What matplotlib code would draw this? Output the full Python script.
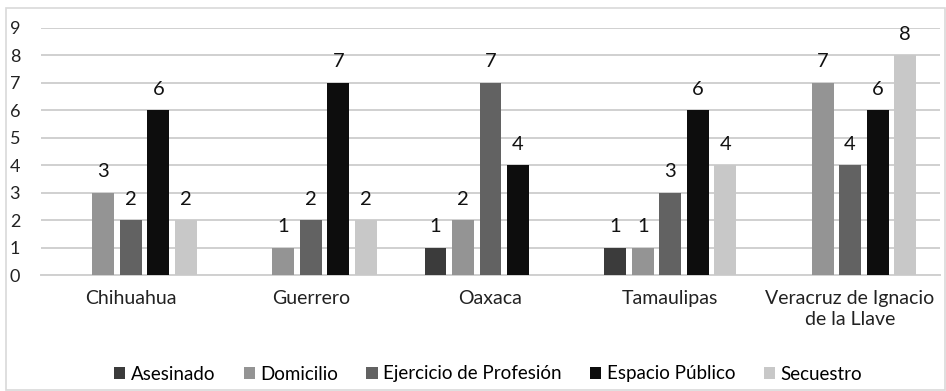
import numpy as np
import matplotlib.pyplot as plt
from matplotlib.patches import Rectangle

plt.rcParams['font.family'] = ['Lato', 'DejaVu Sans']

states = ['Chihuahua', 'Guerrero', 'Oaxaca', 'Tamaulipas', 'Veracruz de Ignacio\nde la Llave']
series_names = ['Asesinado', 'Domicilio', 'Ejercicio de Profesión', 'Espacio Público', 'Secuestro']
asesinado = [0, 0, 1, 1, 0]
domicilio = [3, 1, 2, 1, 7]
ejercicio = [2, 2, 7, 3, 4]
espacio = [6, 7, 4, 6, 6]
secuestro = [2, 2, 0, 4, 8]
colors = ['#3b3b3b', '#949494', '#626262', '#0d0d0d', '#c8c8c8']

W, H = 946, 391
fig = plt.figure(figsize=(W / 100, H / 100), dpi=100)
# light outer border around the chart
fig.patches.append(Rectangle((6 / W, 1 / H), 939 / W, (H - 9) / H,
                             transform=fig.transFigure, fill=False,
                             edgecolor='#d9d9d9', linewidth=1.2))

ax = fig.add_axes([41 / W, 116 / H, 899 / W, (275 - 28) / H])
x = np.arange(len(states))
step = 0.153
width = 0.122
all_series = [asesinado, domicilio, ejercicio, espacio, secuestro]
for i, (vals, name, c) in enumerate(zip(all_series, series_names, colors)):
    pos = x + (i - 2) * step
    bars = ax.bar(pos, vals, width, color=c, label=name, zorder=3)
    for b, v in zip(bars, vals):
        if v > 0:
            ax.annotate(str(v), (b.get_x() + b.get_width() / 2, v),
                        xytext=(0, 9), textcoords='offset points',
                        ha='center', va='bottom', fontsize=14.5, color='#111111')

ax.set_xlim(-0.5, len(states) - 0.5)
ax.set_ylim(0, 9)
ax.set_yticks(range(10))
ax.yaxis.grid(True, color='#d0d0d0', linewidth=1.4, zorder=0)
for s in ['top', 'right', 'left']:
    ax.spines[s].set_visible(False)
ax.spines['bottom'].set_color('#d0d0d0')
ax.spines['bottom'].set_linewidth(1.4)
ax.tick_params(axis='y', length=0, pad=15, labelsize=13, labelcolor='#222222')
ax.tick_params(axis='x', length=0, pad=11, labelsize=14, labelcolor='#222222')
ax.set_xticks(x)
ax.set_xticklabels(states, va='top', linespacing=1.25)

fig.legend(loc='center', bbox_to_anchor=(488 / W, 1 - 374 / H), ncol=5,
           frameon=False, fontsize=13.5, handlelength=0.6, handleheight=0.6,
           handletextpad=0.3, columnspacing=1.5)

fig.savefig('out.png', dpi=100)
